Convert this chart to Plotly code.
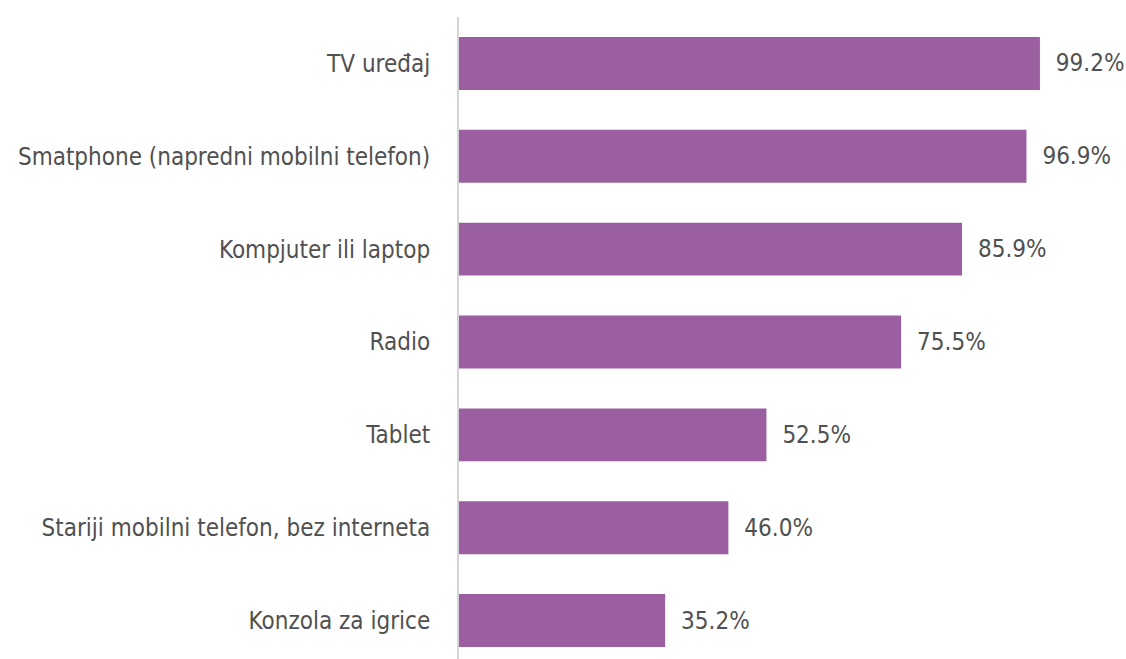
import plotly.graph_objects as go

# Devices in the household (share of respondents, %)
categories = [
    "TV uređaj",
    "Smatphone (napredni mobilni telefon)",
    "Kompjuter ili laptop",
    "Radio",
    "Tablet",
    "Stariji mobilni telefon, bez interneta",
    "Konzola za igrice",
]
values = [99.2, 96.9, 85.9, 75.5, 52.5, 46.0, 35.2]

BAR_COLOR = "#9b5fa1"
TEXT_COLOR = "#505050"
FONT = "Liberation Sans Narrow, DejaVu Sans Condensed, Arial Narrow, sans-serif"

fig = go.Figure(
    go.Bar(
        x=values,
        y=categories,
        orientation="h",
        marker=dict(color=BAR_COLOR, line=dict(width=0)),
        width=0.57,
        text=[f"\u2002\u200a{v:.1f}%" for v in values],
        textposition="outside",
        textfont=dict(size=24, color=TEXT_COLOR, family=FONT),
        cliponaxis=False,
    )
)

fig.update_layout(
    width=1126,
    height=659,
    margin=dict(l=459, r=0, t=17, b=0, autoexpand=False),
    plot_bgcolor="white",
    paper_bgcolor="white",
    showlegend=False,
    font=dict(family=FONT, size=24, color=TEXT_COLOR),
    uniformtext=dict(minsize=24, mode="show"),
)

fig.update_xaxes(
    range=[0, 113.9],
    visible=False,
    showgrid=False,
    zeroline=False,
    automargin=False,
)
fig.update_yaxes(
    categoryorder="array",
    categoryarray=categories,
    range=[6.414, -0.5],
    automargin=False,
    showgrid=False,
    zeroline=False,
    showline=True,
    linecolor="#d4d4d4",
    linewidth=2,
    ticks="",
    ticklabelstandoff=22,
    tickfont=dict(size=24, color=TEXT_COLOR, family=FONT),
)

# drop the default page margin so the figure sits at the window's corner
fig.write_html(
    "out.html",
    config={"displayModeBar": False},
    post_script="document.body.style.margin='0';document.body.style.overflow='hidden';",
)
